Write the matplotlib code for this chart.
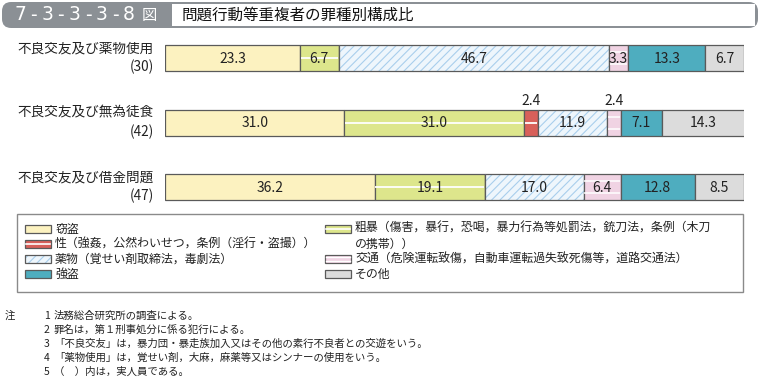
import numpy as np
import matplotlib
matplotlib.use('Agg')
import matplotlib.pyplot as plt
from matplotlib.patches import Rectangle, FancyBboxPatch

plt.rcParams['font.family'] = ['Noto Sans CJK JP', 'DejaVu Sans']
plt.rcParams['hatch.linewidth'] = 0.8

# data (percent)
categories = ['不良交友及び薬物使用', '不良交友及び無為徒食', '不良交友及び借金問題']
counts = [30, 42, 47]
theft = [23.3, 31.0, 36.2]
violent = [6.7, 31.0, 19.1]
sexual = [0.0, 2.4, 0.0]
drugs = [46.7, 11.9, 17.0]
traffic = [3.3, 2.4, 6.4]
robbery = [13.3, 7.1, 12.8]
other = [6.7, 14.3, 8.5]

series = [theft, violent, sexual, drugs, traffic, robbery, other]
names = ['窃盗', '粗暴', '性', '薬物', '交通', '強盗', 'その他']
colors = ['#fcf2c0', '#dde68c', '#d8605a', '#eef6fc', '#f0d3e3', '#4eadbf', '#dcdcdc']
hatch_col = '#a9cfec'
edge = '#5a5a5a'

W, H = 761, 381
fig = plt.figure(figsize=(W / 100, H / 100), dpi=100)


def fx(x):
    return x / W


def fy(y):
    return 1 - y / H


# header
fig.patches.append(FancyBboxPatch((fx(2), fy(28)), fx(756), 26 / H,
                                  boxstyle='round,pad=0,rounding_size=0.012',
                                  transform=fig.transFigure, facecolor='#8b9095',
                                  edgecolor='none', mutation_aspect=2))
fig.patches.append(Rectangle((fx(172), fy(26)), fx(583), 22 / H, transform=fig.transFigure,
                             facecolor='white', edgecolor='none'))
# figure number, spaced out like the original
fig_no = ['7', '-', '3', '-', '3', '-', '3', '-', '8']
for j, ch in enumerate(fig_no):
    fig.text(fx(20 + 13.6 * j), fy(15), ch, color='white', fontsize=13.5, va='center',
             ha='center', family=['DejaVu Sans'])
fig.text(fx(149), fy(15.5), '図', color='white', fontsize=11, va='center', ha='center')
fig.text(fx(182), fy(15.5), '問題行動等重複者の罪種別構成比', color='#111111', fontsize=11.2,
         va='center', ha='left')

# bars
ax = fig.add_axes([fx(165), fy(219.5), fx(744) - fx(165), (219.5 - 26) / H])
ax.set_xlim(0, 100)
ax.set_ylim(2.5, -0.5)
ax.axis('off')

y = np.arange(len(categories))
bh = 0.4
left = np.zeros(len(categories))
for k, (vals, name, col) in enumerate(zip(series, names, colors)):
    vals = np.array(vals)
    if name == '薬物':
        ax.barh(y, vals, left=left, height=bh, color=col, edgecolor=hatch_col,
                hatch='////', linewidth=0)
        ax.barh(y, vals, left=left, height=bh, color='none', edgecolor=edge, linewidth=0.9)
    else:
        ax.barh(y, vals, left=left, height=bh, color=col, edgecolor=edge, linewidth=0.9)
    for i in range(len(y)):
        if vals[i] <= 0:
            continue
        x0, x1 = left[i], left[i] + vals[i]
        if name in ('粗暴', '性'):
            ax.hlines(y[i], x0 + 0.15, x1 - 0.15, color='white', linewidth=1.3)
        if name == '交通':
            for off in (-0.09, 0.09):
                ax.hlines(y[i] + off, x0 + 0.15, x1 - 0.15, color='white', linewidth=1.1)
        cx = left[i] + vals[i] / 2
        if vals[i] < 3:
            ax.text(cx, y[i] - bh / 2 - 0.03, f'{vals[i]:.1f}', ha='center', va='bottom',
                    fontsize=10, color='#222222')
        else:
            ax.text(cx, y[i] + 0.01, f'{vals[i]:.1f}', ha='center', va='center',
                    fontsize=10, color='#222222')
    left = left + vals

for i, (cat, n) in enumerate(zip(categories, counts)):
    ax.text(-0.019, i - 0.01, f'{cat}\n({n})', transform=ax.get_yaxis_transform(),
            ha='right', va='center', fontsize=9.8, linespacing=1.4, color='#222222')

# legend
fig.patches.append(Rectangle((fx(17), fy(292)), fx(726), 78 / H, transform=fig.transFigure,
                             facecolor='none', edgecolor='#8a8a8a', linewidth=1))

leg_items = [
    (25, 229, 0, '窃盗'),
    (25, 244, 2, '性（強姦，公然わいせつ，条例（淫行・盗撮））'),
    (25, 259, 3, '薬物（覚せい剤取締法，毒劇法）'),
    (25, 274, 5, '強盗'),
    (325, 229, 1, '粗暴（傷害，暴行，恐喝，暴力行為等処罰法，銃刀法，条例（木刀\nの携帯））'),
    (325, 259, 4, '交通（危険運転致傷，自動車運転過失致死傷等，道路交通法）'),
    (325, 274, 6, 'その他'),
]
for px, py, k, label in leg_items:
    name = names[k]
    if name == '薬物':
        fig.patches.append(Rectangle((fx(px), fy(py + 4)), 26 / W, 8 / H, transform=fig.transFigure,
                                     facecolor=colors[k], edgecolor=hatch_col, hatch='////',
                                     linewidth=0))
        fig.patches.append(Rectangle((fx(px), fy(py + 4)), 26 / W, 8 / H, transform=fig.transFigure,
                                     facecolor='none', edgecolor=edge, linewidth=0.9))
    else:
        fig.patches.append(Rectangle((fx(px), fy(py + 4)), 26 / W, 8 / H, transform=fig.transFigure,
                                     facecolor=colors[k], edgecolor=edge, linewidth=0.9))
    if name in ('粗暴', '性'):
        fig.lines.append(plt.Line2D([fx(px + 1), fx(px + 25)], [fy(py), fy(py)],
                                    transform=fig.transFigure, color='white', linewidth=1.2))
    if name == '交通':
        for off in (-2, 2):
            fig.lines.append(plt.Line2D([fx(px + 1), fx(px + 25)], [fy(py + off), fy(py + off)],
                                        transform=fig.transFigure, color='white', linewidth=1.0))
    if '\n' in label:
        fig.text(fx(px + 30), fy(py - 7.5), label, ha='left', va='top', fontsize=8.6,
                 color='#222222', linespacing=1.3)
    else:
        fig.text(fx(px + 30), fy(py), label, ha='left', va='center', fontsize=8.6,
                 color='#222222')

# notes
notes = [
    '法務総合研究所の調査による。',
    '罪名は，第１刑事処分に係る犯行による。',
    '「不良交友」は，暴力団・暴走族加入又はその他の素行不良者との交遊をいう。',
    '「薬物使用」は，覚せい剤，大麻，麻薬等又はシンナーの使用をいう。',
    '（　）内は，実人員である。',
]
fig.text(fx(5), fy(316), '注', fontsize=7.5, va='center', ha='left', color='#222222')
for j, note in enumerate(notes):
    yy = 316 + 14 * j
    fig.text(fx(46.5), fy(yy), str(j + 1), fontsize=7.5, va='center', ha='center', color='#222222')
    fig.text(fx(54), fy(yy), note, fontsize=7.5, va='center', ha='left', color='#222222')

fig.savefig('out.png', dpi=100)
